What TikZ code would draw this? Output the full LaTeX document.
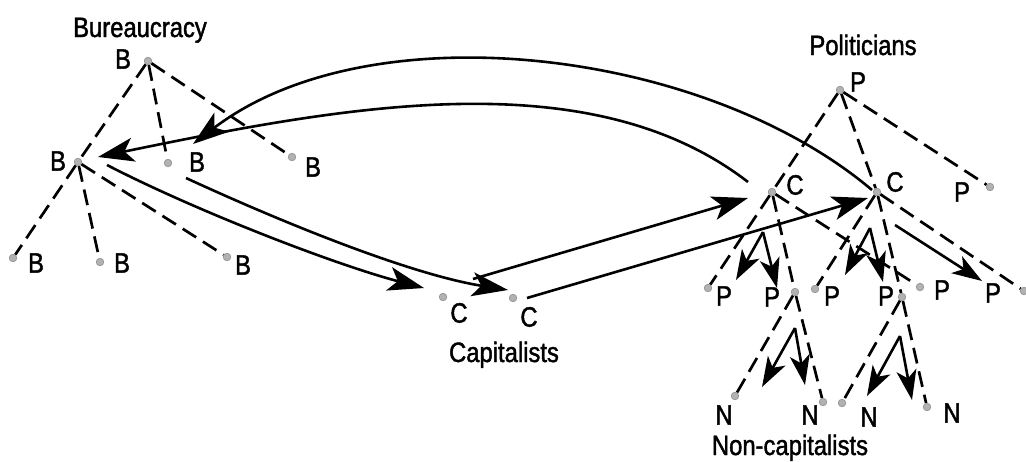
\documentclass[tikz,border=0pt]{standalone}
\usepackage{fontspec}
\newfontfamily\lblfont[FakeStretch=0.85,FakeBold=1.5]{Liberation Sans}
\usetikzlibrary{arrows.meta}
\begin{document}
\begin{tikzpicture}[x=1pt,y=-1pt,
  dot/.style={circle,fill=gray!60,draw=gray!80,line width=0.8pt,inner sep=0pt,minimum size=7.5pt},
  lbl/.style={inner sep=0pt,font=\lblfont\fontsize{28}{30}\selectfont},
  dsh/.style={line width=2.7pt,dash pattern=on 16pt off 8pt},
  conn/.style={line width=2.6pt,-{Stealth[length=36pt,width=24pt,inset=9pt]}},
  smallarr/.style={line width=2.6pt,-{Stealth[length=30pt,width=20pt,inset=8pt]}}]
\useasboundingbox (0,0) rectangle (1026,461);

% ---------- Bureaucracy ----------
\node[lbl,anchor=base] (tBur) at (140,37) {Bureaucracy};
\node[dot] (bT) at (148,61) {};
\node[dot] (bM) at (78,162) {};
\node[dot] (b1) at (168,163) {};
\node[dot] (b2) at (292,157) {};
\node[dot] (b3) at (13,258) {};
\node[dot] (b4) at (100,262) {};
\node[dot] (b5) at (227,257) {};
\node[lbl] (lbT) at (123,59) {B};
\node[lbl] (lbM) at (58,161) {B};
\node[lbl] (lb1) at (197,162) {B};
\node[lbl] (lb2) at (313,167) {B};
\node[lbl] (lb3) at (36,263) {B};
\node[lbl] (lb4) at (122,263) {B};
\node[lbl] (lb5) at (243,265) {B};
\draw[dsh] (bT) -- (bM);
\draw[dsh] (bM) -- (b3);
\draw[dsh] (bT) -- (b1);
\draw[dsh] (bT) -- (b2);
\draw[dsh] (bM) -- (b4);
\draw[dsh] (bM) -- (b5);

% ---------- Capitalists ----------
\node[dot] (c1) at (443,297) {};
\node[dot] (c2) at (513,298) {};
\node[lbl] (lc1) at (459,313) {C};
\node[lbl] (lc2) at (529,317) {C};
\node[lbl,anchor=base] (tCap) at (504,362) {Capitalists};

% ---------- Politicians ----------
\node[lbl,anchor=base] (tPol) at (863,55) {Politicians};
\node[dot] (pT) at (840,90) {};
\node[lbl] (lpT) at (858,82) {P};
\node[dot] (pc1) at (772,192) {};
\node[lbl] (lpc1) at (795,185) {C};
\node[dot] (pc2) at (877,192) {};
\node[lbl] (lpc2) at (895,182) {C};
\node[dot] (pR) at (990,187) {};
\node[lbl] (lpR) at (962,192) {P};
\node[dot] (p1) at (708,288) {};
\node[lbl] (lp1) at (724,296) {P};
\node[lbl] (lp2) at (772,297) {P};
\node[dot] (r1) at (795,292) {};
\node[dot] (p3) at (815,289) {};
\node[lbl] (lp3) at (832,296) {P};
\node[lbl] (lp4) at (886,296) {P};
\node[dot] (r2) at (902,297) {};
\node[dot] (p5) at (920,287) {};
\node[lbl] (lp5) at (942,290) {P};
\node[lbl] (lp6) at (993,293) {P};
\node[dot] (pE) at (1024,291) {};
\draw[dsh] (pT) -- (pc1);
\draw[dsh] (pc1) -- (p1);
\draw[dsh] (pT) -- (pc2);
\draw[dsh] (pT) -- (pR);
\draw[dsh] (pc1) -- (r1);
\draw[dsh] (pc1) -- (p5);
\draw[dsh] (pc2) -- (p3);
\draw[dsh] (pc2) -- (r2);
\draw[dsh] (pc2) -- (pE);

% ---------- Non-capitalists ----------
\node[dot] (n1) at (735,396) {};
\node[dot] (n2) at (823,402) {};
\node[dot] (n3) at (842,403) {};
\node[dot] (n4) at (927,407) {};
\node[lbl] (ln1) at (724,415) {N};
\node[lbl] (ln2) at (810,415) {N};
\node[lbl] (ln3) at (869,417) {N};
\node[lbl] (ln4) at (952,413) {N};
\node[lbl,anchor=base] (tNon) at (790,455) {Non-capitalists};
\draw[dsh] (r1) -- (n1);
\draw[dsh] (r1) -- (n2);
\draw[dsh] (r2) -- (n3);
\draw[dsh] (r2) -- (n4);

% ---------- small solid arrows ----------
\coordinate (a1) at (763,232);
\coordinate (a1L) at (736,280);
\coordinate (a1R) at (777,288);
\coordinate (a2) at (870,228);
\coordinate (a2L) at (845,275);
\coordinate (a2R) at (883,282);
\coordinate (a3) at (895,225);
\coordinate (a3E) at (982,281);
\coordinate (m1) at (795,328);
\coordinate (m1L) at (762,387);
\coordinate (m1R) at (805,385);
\coordinate (m2) at (900,336);
\coordinate (m2L) at (867,396);
\coordinate (m2R) at (912,400);
\draw[smallarr] (a1) -- (a1L);
\draw[smallarr] (a1) -- (a1R);
\draw[smallarr] (a2) -- (a2L);
\draw[smallarr] (a2) -- (a2R);
\draw[smallarr] (a3) -- (a3E);
\draw[smallarr] (m1) -- (m1L);
\draw[smallarr] (m1) -- (m1R);
\draw[smallarr] (m2) -- (m2L);
\draw[smallarr] (m2) -- (m2R);

% ---------- big connectors ----------
\coordinate (oS) at (872,190);
\coordinate (oE) at (193,144);
\coordinate (iS) at (748,182);
\coordinate (iE) at (98,157);
\coordinate (aS) at (186,178);
\coordinate (aE) at (508,290);
\coordinate (bS) at (107,165);
\coordinate (bE) at (424,288);
\coordinate (cS) at (473,279);
\coordinate (cE) at (748,198);
\coordinate (dS) at (527,298);
\coordinate (dE) at (868,198);
\draw[conn] (oS) .. controls (704,48) and (370,9) .. (oE);
\draw[conn] (iS) .. controls (590,60) and (345,106) .. (iE);
\draw[conn] (aS) .. controls (277,220) and (408,274) .. (aE);
\draw[conn] (bS) .. controls (196,211) and (336,265) .. (bE);
\draw[conn] (cS) -- (cE);
\draw[conn] (dS) -- (dE);
\end{tikzpicture}
\end{document}
